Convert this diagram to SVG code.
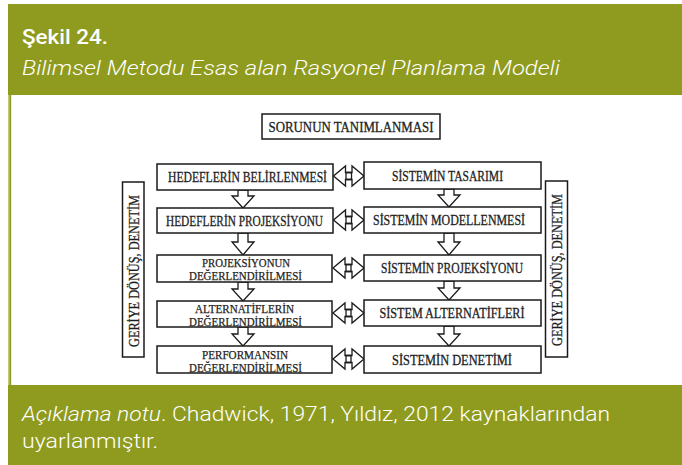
<svg xmlns="http://www.w3.org/2000/svg" width="682" height="465" viewBox="0 0 682 465">
<style>
.hdr{fill:#ffffff;font-family:Roboto,"Liberation Sans",sans-serif}
.box{fill:#ffffff;stroke:#1a1a1a;stroke-width:1.5}
.t{font-family:"Liberation Serif","DejaVu Serif",serif;font-size:14.5px;fill:#1e1e1e;stroke:#1e1e1e;stroke-width:0.3;text-anchor:middle}
.t2{font-family:"Liberation Serif","DejaVu Serif",serif;font-size:12px;fill:#1e1e1e;stroke:#1e1e1e;stroke-width:0.25;text-anchor:middle}
.arr{fill:#ffffff;stroke:#1a1a1a;stroke-width:1.3;stroke-linejoin:miter}
.arr2{fill:none;stroke:#1a1a1a;stroke-width:1.3}
</style>
<rect x="0" y="0" width="682" height="465" fill="#ffffff"/>
<rect x="8" y="4" width="674" height="91" fill="#8f9b1e"/>
<rect x="8" y="385" width="674" height="80" fill="#8f9b1e"/>
<rect x="8" y="95" width="1.3" height="290" fill="#c3ca80"/>
<rect x="9.3" y="95" width="1.9" height="290" fill="#8f9b1e"/>
<text class="hdr" x="22" y="44" font-size="20" font-weight="500" textLength="86" lengthAdjust="spacingAndGlyphs">Şekil 24.</text>
<text class="hdr" x="22" y="75" font-size="20.5" font-weight="300" font-style="italic" textLength="538" lengthAdjust="spacingAndGlyphs">Bilimsel Metodu Esas alan Rasyonel Planlama Modeli</text>
<text class="hdr" x="22" y="421" font-size="20" font-weight="300" textLength="588" lengthAdjust="spacingAndGlyphs"><tspan font-style="italic">Açıklama notu</tspan>. Chadwick, 1971, Yıldız, 2012 kaynaklarından</text>
<text class="hdr" x="22" y="448" font-size="20" font-weight="300" textLength="136" lengthAdjust="spacingAndGlyphs">uyarlanmıştır.</text>

<g id="connectors">
<path class="arr" d="M238,190 h10 v6 h6 l-11,12 l-11,-12 h6 z"/>
<path class="arr" d="M238,233 h10 v9 h6 l-11,13 l-11,-13 h6 z"/>
<path class="arr" d="M238,282 h10 v7 h6 l-11,12 l-11,-12 h6 z"/>
<path class="arr" d="M238,327 h10 v7 h6 l-11,12 l-11,-12 h6 z"/>
<path class="arr" d="M444,189 h10 v6 h6 l-11,12 l-11,-12 h6 z"/>
<path class="arr" d="M444,233 h10 v9 h6 l-11,13 l-11,-13 h6 z"/>
<path class="arr" d="M444,281 h10 v7 h6 l-11,12 l-11,-12 h6 z"/>
<path class="arr" d="M444,326 h10 v8 h6 l-11,12 l-11,-12 h6 z"/>
<g id="dbl1" transform="translate(0,176)">
<path class="arr" d="M333.5,0 l12,-10 v6.5 h6 v7 h-6 v6.5 z"/>
<path class="arr2" d="M364,0 l-12,-10 v6.5 h-6 v7 h6 v6.5 z"/>
</g>
<g id="dbl2" transform="translate(0,220)">
<path class="arr" d="M333.5,0 l12,-10 v6.5 h6 v7 h-6 v6.5 z"/>
<path class="arr2" d="M364,0 l-12,-10 v6.5 h-6 v7 h6 v6.5 z"/>
</g>
<g id="dbl3" transform="translate(0,268)">
<path class="arr" d="M333,0 l12,-10 v6.5 h6 v7 h-6 v6.5 z"/>
<path class="arr2" d="M364,0 l-12,-10 v6.5 h-6 v7 h6 v6.5 z"/>
</g>
<g id="dbl4" transform="translate(0,313)">
<path class="arr" d="M333,0 l12,-10 v6.5 h6 v7 h-6 v6.5 z"/>
<path class="arr2" d="M364,0 l-12,-10 v6.5 h-6 v7 h6 v6.5 z"/>
</g>
<g id="dbl5" transform="translate(0,359)">
<path class="arr" d="M333,0 l12,-10 v6.5 h6 v7 h-6 v6.5 z"/>
<path class="arr2" d="M364,0 l-12,-10 v6.5 h-6 v7 h6 v6.5 z"/>
</g>
</g>

<g id="n-sorun">
<rect class="box" x="262" y="114" width="178" height="25"/>
<text class="t" x="351" y="132" textLength="165" lengthAdjust="spacingAndGlyphs">SORUNUN TANIMLANMASI</text>
</g>
<g id="n-hedef1">
<rect class="box" x="157" y="164" width="176" height="26"/>
<text class="t" x="247.5" y="182" textLength="159" lengthAdjust="spacingAndGlyphs">HEDEFLERİN BELİRLENMESİ</text>
</g>
<g id="n-hedef2">
<rect class="box" x="157" y="208" width="176" height="25"/>
<text class="t" x="244.5" y="225.5" textLength="157" lengthAdjust="spacingAndGlyphs">HEDEFLERİN PROJEKSİYONU</text>
</g>
<g id="n-proj">
<rect class="box" x="157" y="255" width="175" height="27"/>
<text class="t2" x="246" y="267" textLength="88" lengthAdjust="spacingAndGlyphs">PROJEKSİYONUN</text>
<text class="t2" x="245.5" y="280" textLength="113" lengthAdjust="spacingAndGlyphs">DEĞERLENDİRİLMESİ</text>
</g>
<g id="n-alt">
<rect class="box" x="157" y="301" width="175" height="26"/>
<text class="t2" x="244.5" y="312.5" textLength="99" lengthAdjust="spacingAndGlyphs">ALTERNATİFLERİN</text>
<text class="t2" x="245.5" y="325.5" textLength="113" lengthAdjust="spacingAndGlyphs">DEĞERLENDİRİLMESİ</text>
</g>
<g id="n-perf">
<rect class="box" x="157" y="346" width="175" height="27"/>
<text class="t2" x="245" y="358.5" textLength="86" lengthAdjust="spacingAndGlyphs">PERFORMANSIN</text>
<text class="t2" x="245.5" y="371.5" textLength="113" lengthAdjust="spacingAndGlyphs">DEĞERLENDİRİLMESİ</text>
</g>
<g id="n-tasarim">
<rect class="box" x="364" y="162" width="177" height="27"/>
<text class="t" x="447.5" y="180.5" textLength="111" lengthAdjust="spacingAndGlyphs">SİSTEMİN TASARIMI</text>
</g>
<g id="n-model">
<rect class="box" x="364" y="207" width="177" height="26"/>
<text class="t" x="449" y="225" textLength="152" lengthAdjust="spacingAndGlyphs">SİSTEMİN MODELLENMESİ</text>
</g>
<g id="n-sproj">
<rect class="box" x="364" y="255" width="177" height="26"/>
<text class="t" x="452" y="273" textLength="142" lengthAdjust="spacingAndGlyphs">SİSTEMİN PROJEKSİYONU</text>
</g>
<g id="n-salt">
<rect class="box" x="364" y="300" width="177" height="26"/>
<text class="t" x="452" y="318" textLength="145" lengthAdjust="spacingAndGlyphs">SİSTEM ALTERNATİFLERİ</text>
</g>
<g id="n-sden">
<rect class="box" x="364" y="346" width="177" height="27"/>
<text class="t" x="452" y="364.5" textLength="120" lengthAdjust="spacingAndGlyphs">SİSTEMİN DENETİMİ</text>
</g>
<g id="n-geri-left">
<rect class="box" x="122.5" y="182" width="21.5" height="175"/>
<text class="t" transform="translate(138.5,271) rotate(-90)" x="0" y="0" textLength="152" lengthAdjust="spacingAndGlyphs">GERİYE DÖNÜŞ, DENETİM</text>
</g>
<g id="n-geri-right">
<rect class="box" x="545.5" y="181" width="22" height="176"/>
<text class="t" transform="translate(561.5,270) rotate(-90)" x="0" y="0" textLength="152" lengthAdjust="spacingAndGlyphs">GERİYE DÖNÜŞ, DENETİM</text>
</g>
</svg>
